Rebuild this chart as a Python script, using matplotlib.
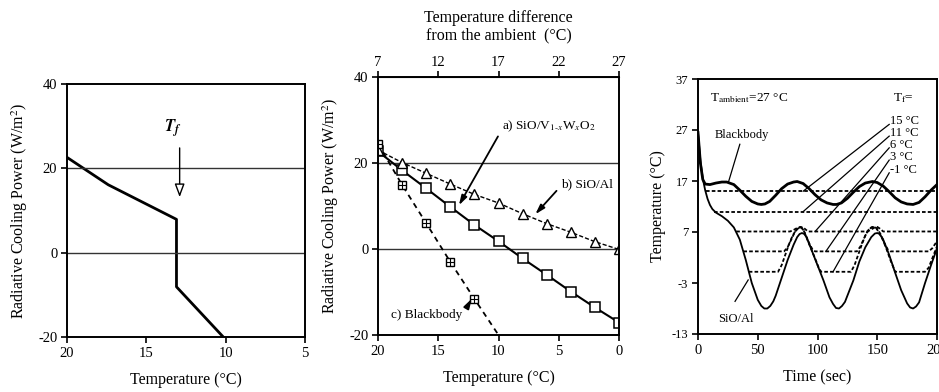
import matplotlib
matplotlib.use("Agg")
import matplotlib.pyplot as plt

plt.rcParams['font.family'] = ['Liberation Serif', 'DejaVu Serif']
plt.rcParams['mathtext.fontset'] = 'stix'
plt.rcParams['axes.unicode_minus'] = False

# ---------------- Panel 1 data ----------------
p1_temp = [20, 17.4, 13.1, 13.1, 10.15]
p1_power = [22.6, 16.1, 7.9, -8.1, -20.0]
p1_tf = 12.9

# ---------------- Panel 2 data ----------------
p2_temp = [20, 18, 16, 14, 12, 10, 8, 6, 4, 2, 0]
p2_vwo = [22.7, 18.3, 14.1, 9.8, 5.6, 1.8, -2.2, -6.0, -9.9, -13.6, -17.1]
p2_sioal = [23.0, 20.1, 17.6, 15.1, 12.7, 10.7, 8.2, 5.9, 3.9, 1.7, -0.1]
p2_bb_temp = [20, 18, 16, 14, 12, 10]
p2_bb = [24.5, 14.9, 6.0, -3.0, -11.6, -20.0]
p2_top_ticks = [7, 12, 17, 22, 27]
ambient = 27

# ---------------- Panel 3 data ----------------
t_sio = [0, 2, 4, 6, 8, 10, 12, 15, 20, 25, 30, 35, 40, 45, 50, 53, 55.5, 58, 60.5, 63,
         65, 70, 75, 80, 83, 85, 87, 89, 91, 95, 100, 105, 110, 113, 115.5, 118, 120.5,
         123, 125, 130, 135, 140, 145, 148, 150, 152, 155, 160, 165, 170, 175, 177.5,
         180, 182.5, 185, 190, 195, 200]
T_sio = [26.5, 21.0, 17.5, 15.2, 13.5, 12.3, 11.5, 10.8, 10.1, 9.2, 7.9, 5.5, 1.5,
         -3.0, -6.3, -7.5, -8.0, -8.0, -7.5, -6.6, -5.5, -2.0, 1.5, 4.5, 6.0, 6.6, 6.8,
         6.6, 5.9, 3.5, 0.5, -2.5, -5.8, -7.1, -7.9, -8.0, -7.5, -6.7, -5.5, -2.5, 1.2,
         4.0, 6.0, 6.7, 6.8, 6.6, 5.5, 2.5, -1.0, -4.4, -7.0, -7.8, -8.0, -7.6, -6.8,
         -3.0, 0.5, 3.8]

t_bb = [0, 2, 4, 6, 10, 15, 20, 24, 30, 35, 40, 45, 50, 53, 56, 60, 65, 70, 75, 80,
        83, 88, 93, 98, 103, 108, 113, 116, 120, 125, 130, 135, 140, 146, 150, 155,
        160, 165, 170, 175, 180, 185, 190, 195, 200]
T_bb = [26.5, 20.5, 17.3, 16.4, 16.3, 16.6, 16.8, 16.8, 16.3, 15.2, 14.0, 13.0, 12.5,
        12.4, 12.5, 13.0, 14.2, 15.5, 16.4, 16.8, 16.9, 16.5, 15.5, 14.3, 13.3, 12.7,
        12.4, 12.4, 12.7, 13.6, 14.8, 15.9, 16.6, 16.9, 16.7, 16.0, 14.9, 13.7, 12.9,
        12.5, 12.4, 12.8, 13.9, 15.2, 16.3]

t_f15 = [6.5, 200]
T_f15 = [15.0, 15.0]
t_f11 = [13.5, 200]
T_f11 = [11.0, 11.0]
t_f6 = [32, 77, 80, 83, 85.5, 88, 90, 92, 142, 145, 148, 150, 152, 155, 200]
T_f6 = [7.1, 7.1, 7.4, 7.8, 8.0, 7.9, 7.5, 7.1, 7.1, 7.5, 7.9, 8.0, 7.7, 7.1, 7.1]
t_f3 = [38, 72, 75, 78, 81, 84, 86, 88, 90, 93, 96, 98, 133, 136, 139, 142, 145, 148,
        150, 153, 156, 159, 161, 193, 196, 200]
T_f3 = [3.2, 3.2, 4.0, 5.5, 7.0, 7.8, 7.9, 7.5, 6.5, 4.8, 3.5, 3.2, 3.2, 4.2, 5.8,
        7.2, 7.9, 8.0, 7.6, 6.5, 4.8, 3.5, 3.2, 3.2, 3.8, 5.2]
t_fm1 = [42.5, 67, 70, 73, 76, 79, 82, 85, 87, 89, 92, 95, 98, 101, 103, 128, 131,
         134, 137, 140, 143, 146, 149, 152, 155, 158, 161, 164, 165, 190, 193, 196, 200]
T_fm1 = [-0.8, -0.8, 0.5, 2.5, 4.5, 6.2, 7.4, 7.9, 7.8, 7.0, 5.2, 3.5, 1.8, 0.0, -0.8,
         -0.8, 0.5, 2.5, 4.5, 6.3, 7.5, 8.0, 7.8, 6.7, 5.3, 3.5, 1.5, -0.2, -0.8, -0.8,
         0.0, 1.8, 4.2]
tf_labels = ['15 °C', '11 °C', '6 °C', '3 °C', '-1 °C']

# ---------------- Figure ----------------
W, H = 939, 392
fig = plt.figure(figsize=(W / 100, H / 100), dpi=100)

def rect(l, r, t, b):
    return [l / W, (H - b) / H, (r - l) / W, (b - t) / H]

ax1 = fig.add_axes(rect(67, 305, 84, 337))
ax2 = fig.add_axes(rect(378, 619, 77, 335))
ax3 = fig.add_axes(rect(698, 937, 79, 334))

lab_fs = 11.5
tick_fs = 10.5

for ax in (ax1, ax2, ax3):
    for s in ax.spines.values():
        s.set_linewidth(1.4)
    ax.tick_params(direction='out', length=4, width=1.2, labelsize=tick_fs, pad=3)

# Panel 1
ax1.plot(p1_temp, p1_power, color='black', lw=2.0)
for yv in (0, 20):
    ax1.axhline(yv, color='#333333', lw=1.0)
ax1.set_xlim(20, 5)
ax1.set_ylim(-20, 40)
ax1.set_xticks([20, 15, 10, 5])
ax1.set_yticks([-20, 0, 20, 40])
ax1.set_xlabel('Temperature (°C)', fontsize=lab_fs, labelpad=9)
ax1.set_ylabel('Radiative Cooling Power (W/m$^2$)', fontsize=lab_fs, labelpad=6)
ax1.annotate('', xy=(p1_tf, 12.5), xytext=(p1_tf, 25.5),
             arrowprops=dict(arrowstyle='-|>,head_width=0.3,head_length=0.8',
                             fc='white', ec='black', lw=1.0))
ax1.text(13.3, 27.0, r'$\mathbfit{T}_{\mathbfit{f}}$', fontsize=12, ha='center', va='bottom')

# Panel 2
for yv in (0, 20):
    ax2.axhline(yv, color='#333333', lw=1.0)
ax2.plot(p2_temp, p2_vwo, color='black', lw=1.5, marker='s', ms=7,
         mfc='white', mec='black', mew=1.1)
ax2.plot(p2_temp, p2_sioal, color='black', lw=1.0, ls=(0, (3, 1.5)), marker='^', ms=6.5,
         mfc='white', mec='black', mew=1.0)
ax2.plot(p2_bb_temp, p2_bb, color='black', lw=1.3, ls=(0, (3, 2.5)))
ax2.plot(p2_bb_temp[:-1], p2_bb[:-1], ls='none', marker='s', ms=6, mfc='white',
         mec='black', mew=1.0)
ax2.plot(p2_bb_temp[:-1], p2_bb[:-1], ls='none', marker='+', ms=6, mec='black', mew=0.8)
ax2.set_xlim(20, 0)
ax2.set_ylim(-20, 40)
ax2.set_xticks([20, 15, 10, 5, 0])
ax2.set_yticks([-20, 0, 20, 40])
ax2.set_xlabel('Temperature (°C)', fontsize=lab_fs, labelpad=9)
ax2.set_ylabel('Radiative Cooling Power (W/m$^2$)', fontsize=lab_fs, labelpad=6)
sec = ax2.secondary_xaxis('top', functions=(lambda x: ambient - x, lambda d: ambient - d))
sec.set_xticks(p2_top_ticks)
sec.tick_params(direction='out', length=4, width=1.2, labelsize=tick_fs, pad=2)
sec.set_xlabel('Temperature difference\nfrom the ambient  (°C)', fontsize=lab_fs,
               labelpad=12, linespacing=1.05)

arrow_kw = dict(arrowstyle='-|>,head_width=0.18,head_length=0.6', color='black', lw=1.3)
ax2.annotate('a) SiO/V$_{1\u2010x}$W$_x$O$_2$', xy=(13.4, 9.6), xytext=(9.7, 28.6),
             fontsize=9.5, va='center', ha='left', arrowprops=dict(arrow_kw, relpos=(0, 0.3)))
ax2.annotate('b) SiO/Al', xy=(7.1, 7.6), xytext=(4.8, 15.0),
             fontsize=9.5, va='center', ha='left', arrowprops=dict(arrow_kw, relpos=(0, 0.4)))
ax2.annotate('c) Blackbody', xy=(12.1, -11.0), xytext=(18.9, -15.3),
             fontsize=9.5, va='center', ha='left', arrowprops=dict(arrow_kw, relpos=(1, 0.5)))

# Panel 3
ax3.plot(t_sio, T_sio, color='black', lw=1.3)
ax3.plot(t_bb, T_bb, color='black', lw=2.0)
dash = (0, (2.0, 1.2))
for tt, TT in ((t_f15, T_f15), (t_f11, T_f11), (t_f6, T_f6), (t_f3, T_f3), (t_fm1, T_fm1)):
    ax3.plot(tt, TT, color='black', lw=1.3, ls=dash)
ax3.set_xlim(0, 200)
ax3.set_ylim(-13, 37)
ax3.set_xticks([0, 50, 100, 150, 200])
ax3.set_yticks([-13, -3, 7, 17, 27, 37])
ax3.tick_params(axis='y', labelsize=9)
ax3.set_xlabel('Time (sec)', fontsize=lab_fs, labelpad=9)
ax3.set_ylabel('Temperature (°C)', fontsize=lab_fs, labelpad=4)

ax3.text(10, 33.3, r'T$_{\rm ambient}$=27 °C', fontsize=9.5, ha='left', va='center')
ax3.text(163, 33.3, r'T$_{\rm f}$=', fontsize=9.5, ha='left', va='center')
label_y = [28.7, 26.4, 24.1, 21.7, 19.2]
ends = [(88, 15.0), (88, 11.0), (98, 7.1), (107, 3.2), (113, -0.8)]
for lab, ly, (ex, ey) in zip(tf_labels, label_y, ends):
    ax3.text(161, ly, lab, fontsize=9, ha='left', va='center')
    ax3.plot([160, ex], [ly - 0.6, ey], color='black', lw=0.9)
ax3.text(37, 26.0, 'Blackbody', fontsize=9, ha='center', va='center')
ax3.plot([35, 25.5], [24.2, 16.8], color='black', lw=0.9)
ax3.text(32, -10.0, 'SiO/Al', fontsize=9, ha='center', va='center')
ax3.plot([31, 42], [-6.6, -2.4], color='black', lw=0.9)

fig.savefig('out.png', dpi=100)
